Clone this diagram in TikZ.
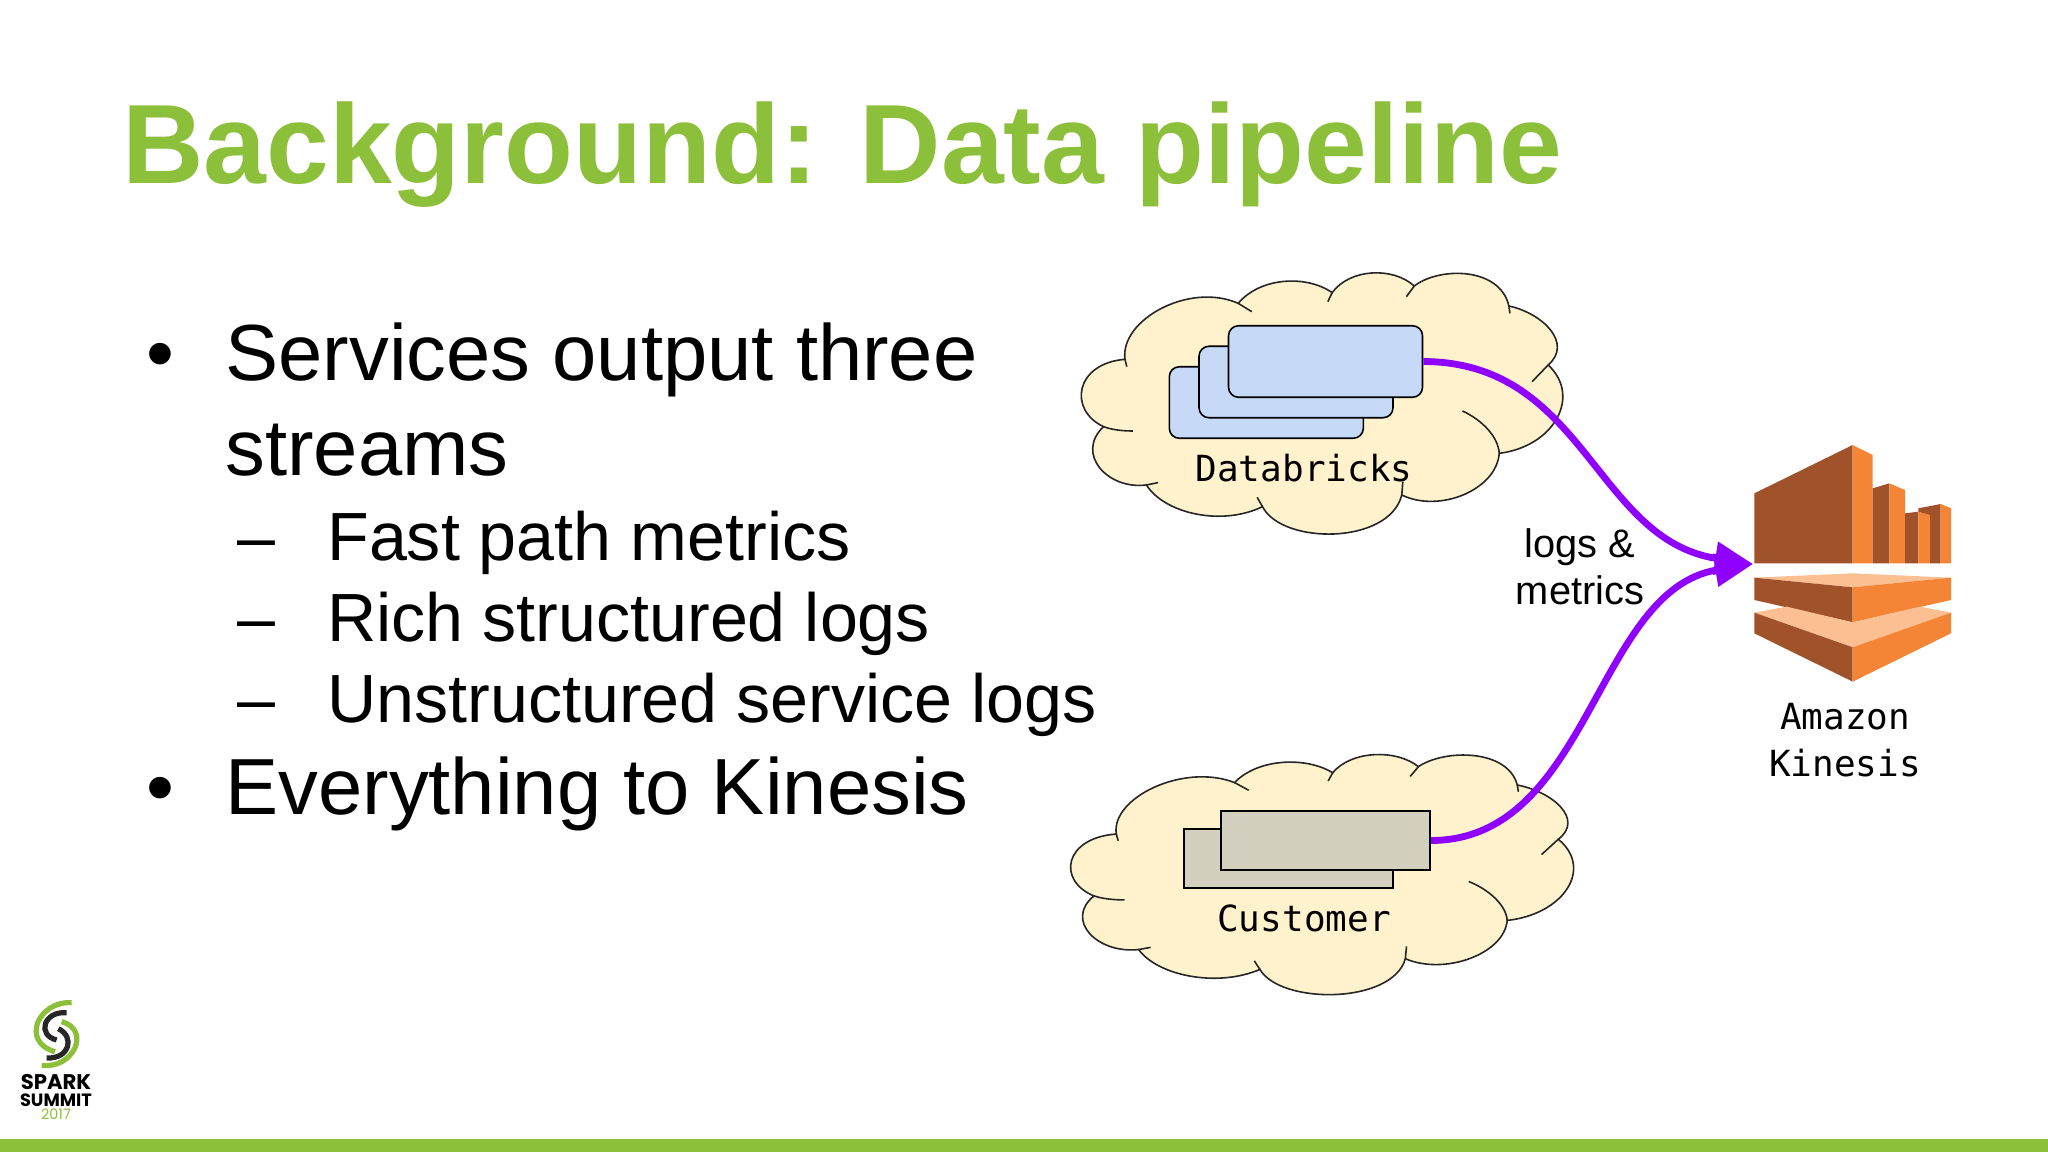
\documentclass[tikz,border=0pt]{standalone}
\usepackage{fontspec}
\setmainfont{Liberation Sans}
\newfontfamily\monofam{DejaVu Sans Mono}
\newfontfamily\logofam{Poppins}
\usetikzlibrary{arrows.meta}
\definecolor{sparkgreen}{HTML}{8CBF3A}
\definecolor{cloudfill}{HTML}{FFF2CC}
\definecolor{dbblue}{HTML}{C6D9F6}
\definecolor{custgrey}{HTML}{D3D0BF}
\definecolor{flowpurple}{HTML}{8F00FF}
\definecolor{kindark}{HTML}{A0522A}
\definecolor{kinorange}{HTML}{F58536}
\definecolor{kinlight}{HTML}{FCBF92}

\begin{document}
\begin{tikzpicture}[x=0.5pt, y=-0.5pt]
        % ================= styles =================
        \tikzset{
            slidetext/.style={anchor=base west, inner sep=0pt},
            title/.style={slidetext, text=sparkgreen, font=\fontsize{56.4}{60}\selectfont\bfseries},
            bigitem/.style={slidetext, font=\fontsize{39.8}{44}\selectfont},
            subitem/.style={slidetext, font=\fontsize{34.1}{38}\selectfont},
            monolabel/.style={align=center, inner sep=0pt, font=\fontsize{18}{23.5}\selectfont\monofam},
            dbbox/.style={draw=black, line width=0.8pt, fill=dbblue, rounded corners=5pt, inner sep=0pt,
                minimum width=97pt, minimum height=35.75pt},
            custbox/.style={draw=black, line width=0.8pt, fill=custgrey, inner sep=0pt,
                minimum width=104.7pt, minimum height=29.7pt},
            flowline/.style={draw=flowpurple, line width=3.4pt, -{Triangle[length=19pt, width=16pt]}},
            logotext/.style={inner sep=0pt, font=\logofam\bfseries},
            % cloud outline, drawn in the units of the zoomed crop
            pics/cloudblob/.style={code={
                \draw[fill=cloudfill, draw=black!85, line width=0.8pt]
                    (210,328) .. controls (195,210) and (390,95) .. (527,160)
                    .. controls (590,80) and (720,75) .. (790,128)
                    .. controls (840,55) and (960,50) .. (1020,108)
                    .. controls (1090,50) and (1260,50) .. (1285,168)
                    .. controls (1380,190) and (1465,280) .. (1395,345)
                    .. controls (1490,440) and (1410,590) .. (1258,610)
                    .. controls (1250,720) and (1090,790) .. (985,735)
                    .. controls (950,885) and (650,885) .. (595,770)
                    .. controls (480,830) and (320,790) .. (270,705)
                    .. controls (160,720) and (70,610) .. (150,530)
                    .. controls (50,480) and (70,340) .. (210,328) -- cycle;
                % short tails where the lobes overlap
                \draw[draw=black!85, line width=0.8pt]
                    (210,328) -- (215,350)
                    (527,160) -- (565,185)
                    (790,128) -- (778,155)
                    (1020,108) -- (998,140)
                    (1285,168) -- (1288,190)
                    (1395,345) -- (1350,395)
                    (1258,610) .. controls (1255,560) and (1210,510) .. (1155,483)
                    (985,735) -- (988,695)
                    (595,770) -- (580,742)
                    (270,705) -- (302,698)
                    (150,530) .. controls (175,540) and (205,543) .. (232,543);
            }}
        }
        \useasboundingbox (0,0) rectangle (2048,1152);

        % ================= slide text =================
        \fill[white] (0,0) rectangle (2048,1152);
        \fill[sparkgreen] (0,1139) rectangle (2048,1152);

        \node[title] (slidetitle) at (122,183) {Background: Data pipeline};

        \node[bigitem] (dotone) at (146,380) {•};
        \node[bigitem] (itemone) at (225,380) {Services output three};
        \node[bigitem] (itemonewrap) at (225,475) {streams};
        \node[subitem] (dashone) at (237,560) {–};
        \node[subitem] (subone) at (327,560) {Fast path metrics};
        \node[subitem] (dashtwo) at (237,641) {–};
        \node[subitem] (subtwo) at (327,641) {Rich structured logs};
        \node[subitem] (dashthree) at (237,722) {–};
        \node[subitem] (subthree) at (327,722) {Unstructured service logs};
        \node[bigitem] (dottwo) at (146,814) {•};
        \node[bigitem] (itemtwo) at (225,814) {Everything to Kinesis};

        % ================= clouds =================
        \pic[xscale=0.3571, yscale=0.3333] at (1050,250) {cloudblob};
        \pic[xscale=0.373, yscale=0.3063] at (1037.95,733.56) {cloudblob};

        % ================= connectors =================
        \node[dbbox] (dbback) at (1266.3,402.5) {};
        \node[dbbox] (dbmid) at (1296,382) {};
        \node[dbbox] (dbfront) at (1325.5,361.5) {};
        \node[custbox] (custback) at (1288.4,858.5) {};
        \node[custbox] (custfront) at (1325.5,840.5) {};
        \coordinate (kinesistip) at (1753,564);

        \draw[flowline] (dbfront.east) .. controls (1585,362) and (1595,540) .. (kinesistip);
        \draw[flowline] (custfront.east) .. controls (1590,840) and (1595,590) .. (kinesistip);

        \node[monolabel] (dblabel) at (1304,468) {Databricks};
        \node[monolabel] (custlabel) at (1304,918) {Customer};
        \node[align=center, inner sep=0pt, font=\fontsize{19.9}{23.5}\selectfont] (flowlabel) at (1580,567) {logs \&\\metrics};

        % ================= kinesis icon =================
        \begin{scope}[shift={(1720,430)}, xscale=0.3333, yscale=0.3333]
            \fill[kindark] (103,190) -- (398,45) -- (398,400) -- (103,400) -- cycle;
            \fill[kinorange] (398,45) -- (458,75) -- (458,400) -- (398,400) -- cycle;
            \fill[kindark] (458,175) -- (508,160) -- (508,400) -- (458,400) -- cycle;
            \fill[kinorange] (508,160) -- (555,180) -- (555,400) -- (508,400) -- cycle;
            \fill[kindark] (555,250) -- (595,245) -- (595,400) -- (555,400) -- cycle;
            \fill[kinorange] (595,245) -- (630,255) -- (630,400) -- (595,400) -- cycle;
            \fill[kindark] (595,235) -- (662,222) -- (662,400) -- (630,400) -- (630,255) -- (595,245) -- cycle;
            \fill[kinorange] (662,222) -- (693,235) -- (693,400) -- (662,400) -- cycle;
            % middle slab
            \fill[kinlight] (103,443) -- (398,430) -- (693,443) -- (398,472) -- cycle;
            \fill[kindark] (103,443) -- (398,472) -- (398,577) -- (103,510) -- cycle;
            \fill[kinorange] (398,472) -- (693,443) -- (693,510) -- (398,577) -- cycle;
            % lower slab
            \fill[kinlight] (103,548) -- (200,530) -- (398,577) -- (600,530) -- (693,548) -- (398,652) -- cycle;
            \fill[kindark] (103,548) -- (398,652) -- (398,755) -- (103,610) -- cycle;
            \fill[kinorange] (398,652) -- (693,548) -- (693,610) -- (398,755) -- cycle;
        \end{scope}
        \node[monolabel] (kinlabel) at (1845,740) {Amazon\\Kinesis};

        % ================= logo =================
        \begin{scope}[shift={(0,980)}, xscale=0.3333, yscale=0.3333]
            \draw[sparkgreen, line width=2.6pt] (215,68) .. controls (115,62) and (60,185) .. (165,215);
            \draw[sparkgreen, line width=2.6pt] (125,256) .. controls (220,268) and (275,150) .. (185,125);
            \draw[black!85, line width=2.6pt] (200,98) .. controls (130,93) and (110,165) .. (170,180);
            \draw[black!85, line width=2.6pt] (140,234) .. controls (210,237) and (225,170) .. (175,146);
        \end{scope}
        \node[logotext, font=\fontsize{10.6}{12}\selectfont\logofam\bfseries] (logospark) at (56,1082) {SPARK};
        \node[logotext, font=\fontsize{8.9}{10}\selectfont\logofam\bfseries] (logosummit) at (56,1100) {SUMMIT};
        \node[inner sep=0pt, text=sparkgreen, font=\fontsize{7.2}{9}\selectfont\logofam] (logoyear) at (56,1114) {2017};
    \end{tikzpicture}
\end{document}
